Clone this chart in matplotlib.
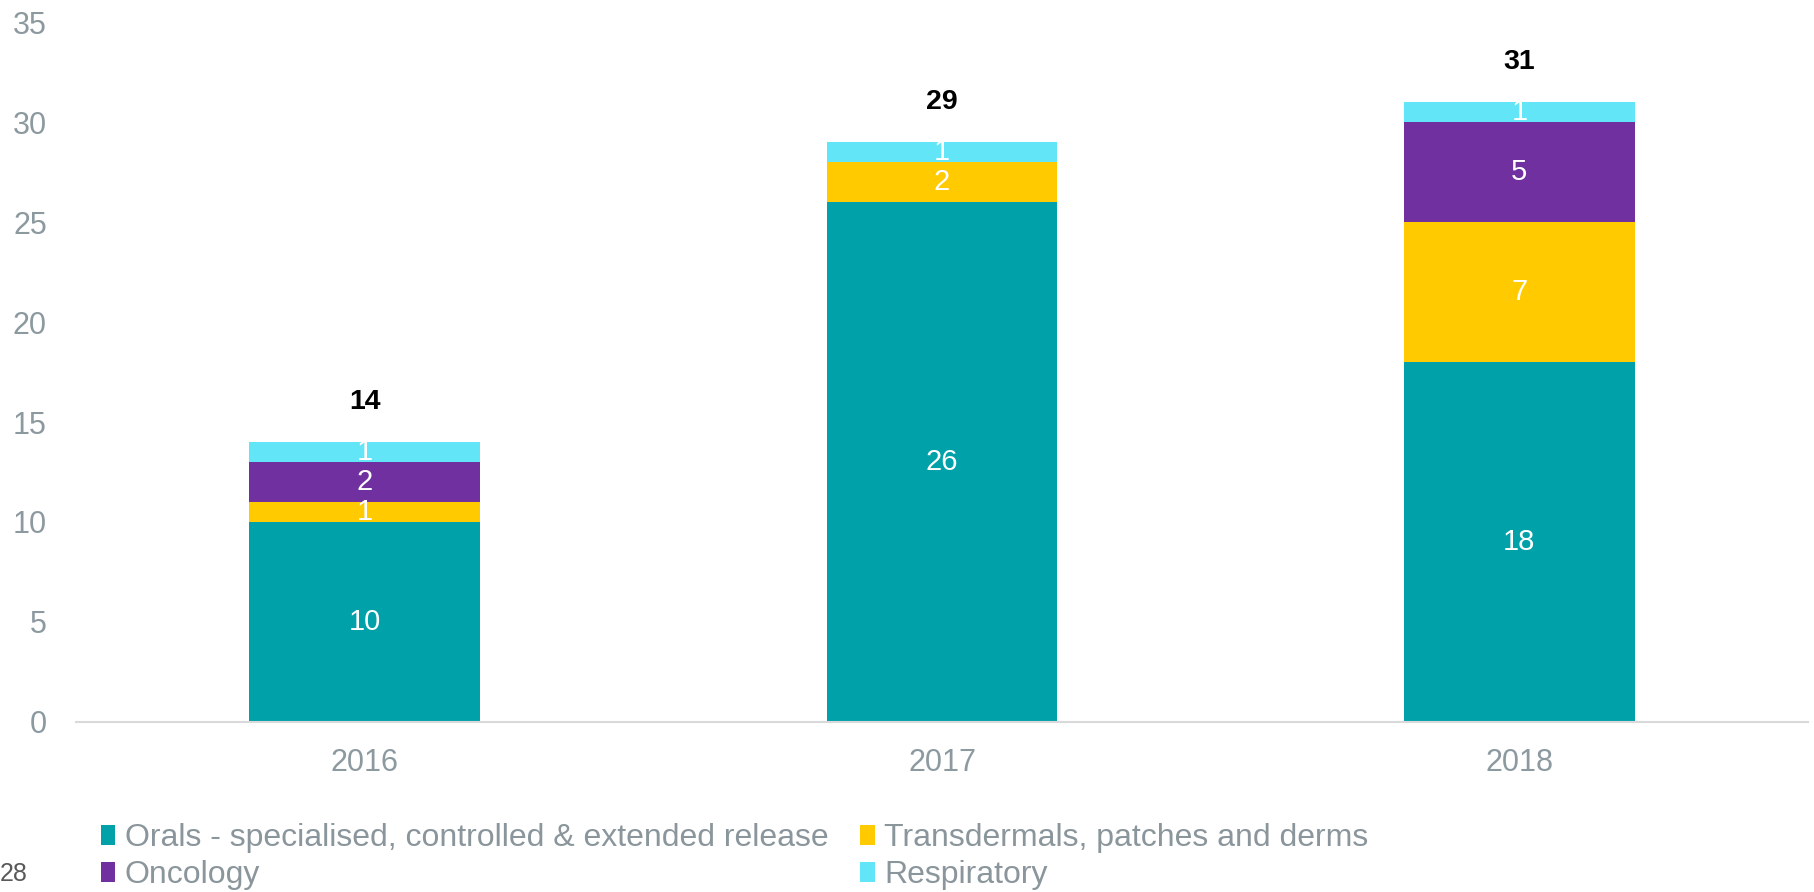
import numpy as np
import matplotlib
matplotlib.use('Agg')
import matplotlib.pyplot as plt

plt.rcParams['font.family'] = ['Liberation Sans', 'DejaVu Sans']

# Product launches per year by dosage category
years = ['2016', '2017', '2018']
categories = ['Orals - specialised, controlled & extended release',
              'Transdermals, patches and derms',
              'Oncology',
              'Respiratory']
orals = [10, 26, 18]
transdermals = [1, 2, 7]
oncology = [2, 0, 5]
respiratory = [1, 1, 1]
colors = ['#00A1A9', '#FFCB00', '#7030A0', '#62E5F7']

series = [orals, transdermals, oncology, respiratory]
totals = np.sum(series, axis=0)

fig = plt.figure(figsize=(18.14, 8.92), dpi=100)
ax = fig.add_axes([0.0419, 0.1906, 0.9548, 0.7847])

x = np.arange(len(years))
bottom = np.zeros(len(years))
handles = []
for vals, name, col in zip(series, categories, colors):
    bars = ax.bar(x, vals, width=0.4, bottom=bottom, color=col, label=name)
    handles.append(bars)
    for xi, b, v in zip(x, bottom, vals):
        if v > 0:
            ax.text(xi, b + v / 2, str(v), ha='center', va='center',
                    color='white', fontsize=21)
    bottom += np.array(vals)

# totals above each stack
for xi, t in zip(x, totals):
    ax.text(xi, t + 2.0, str(t), ha='center', va='center',
            fontsize=20.5, fontweight='bold', color='black')

ax.set_xlim(-0.5, 2.5)
ax.set_ylim(0, 35)
ax.set_yticks(range(0, 36, 5))
ax.set_xticks(x)
ax.set_xticklabels(years)
ax.tick_params(axis='both', length=0, labelsize=22, colors='#8C9AA0')
ax.tick_params(axis='y', pad=21)
ax.tick_params(axis='x', pad=19)
for s in ['top', 'right', 'left']:
    ax.spines[s].set_visible(False)
ax.spines['bottom'].set_color('#D9D9D9')
ax.spines['bottom'].set_linewidth(1.5)

# legend fills column by column
order = [0, 2, 1, 3]
leg = fig.legend([handles[i] for i in order], [categories[i] for i in order],
                 ncol=2, loc='upper left', bbox_to_anchor=(0.0555, 0.077),
                 frameon=False, fontsize=23, handlelength=0.45, handleheight=0.6,
                 handletextpad=0.3, columnspacing=1.0, labelspacing=0.22,
                 borderaxespad=0, borderpad=0)
for t in leg.get_texts():
    t.set_color('#8A969B')

fig.text(0.0, 1 - 874 / 892, '28', fontsize=18, color='#595959',
         ha='left', va='center')

fig.savefig('out.png', dpi=100)
